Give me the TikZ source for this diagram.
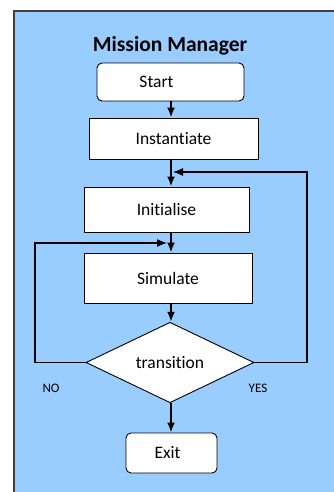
\documentclass[tikz,border=0pt]{standalone}
\usepackage{fontspec}
\setmainfont{Carlito}[Ligatures={NoCommon}]
\usetikzlibrary{shapes.geometric,arrows.meta,calc}
\definecolor{panel}{HTML}{99CCFF}
\definecolor{edge}{HTML}{404040}
\tikzset{
  box/.style={draw=black,line width=0.9pt,fill=white,inner sep=0pt,font=\fontsize{17.5}{19}\selectfont},
  term/.style={box,rounded corners=5pt},
  dec/.style={diamond,draw=black,line width=0.9pt,fill=white,inner sep=0pt,font=\fontsize{17.5}{19}\selectfont},
  arr/.style={line width=2pt,-{Latex[length=10pt,width=8pt]}},
  loop/.style={line width=1.3pt,-{Latex[length=10pt,width=8pt]}},
  lbl/.style={font=\fontsize{13}{15}\selectfont,inner sep=0pt},
}
\begin{document}
\begin{tikzpicture}[x=1pt,y=-1pt]
\useasboundingbox (0,0) rectangle (333,492);
\fill[panel] (14,11) rectangle (334,493);
\draw[edge,line width=1.5pt] (14,493) -- (14,11) -- (334,11);
\node[font=\bfseries\fontsize{21.5}{23}\selectfont,inner sep=0pt] (title) at (170,46) {Mission Manager};
\node[term,minimum width=147pt,minimum height=38pt] (start) at (170.5,82) {Start\kern28pt\relax};
\node[box,minimum width=169pt,minimum height=41pt] (inst) at (173.5,138.5) {Instantiate};
\node[box,minimum width=165pt,minimum height=45pt] (init) at (166.5,209.5) {Initialise};
\node[box,minimum width=168pt,minimum height=50pt] (sim) at (168,278) {Simulate};
\node[dec,minimum width=168pt,minimum height=80pt] (tr) at (170,362.5) {transition};
\node[term,minimum width=91pt,minimum height=40pt] (exit) at (171.5,453) {Exit\kern8pt\relax};
\node[lbl] (no) at (51,388) {NO};
\node[lbl] (yes) at (258,388) {YES};
\coordinate (col) at (171,0);
\coordinate (rl) at (307,0);
\coordinate (ll) at (35,0);
\coordinate (yj) at (173,172);
\coordinate (nj) at (167,243);
\draw[arr] (start.south -| col) -- (inst.north -| col);
\draw[arr] (inst.south -| col) -- (init.north -| col);
\draw[arr] (init.south -| col) -- (sim.north -| col);
\draw[arr] (sim.south -| col) -- (tr.north -| col);
\draw[arr] (tr.south -| col) -- (exit.north -| col);
\draw[loop] (tr.east) -- (tr.east -| rl) -- (yj -| rl) -- (yj);
\draw[loop] (tr.west) -- (tr.west -| ll) -- (nj -| ll) -- (nj);
\end{tikzpicture}
\end{document}
